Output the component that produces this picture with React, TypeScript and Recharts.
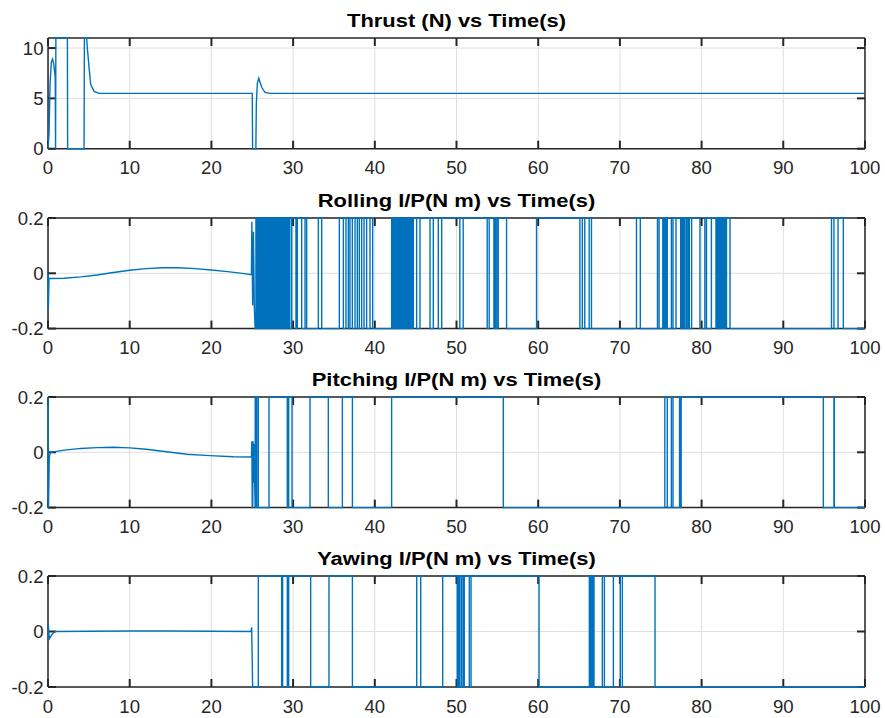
import React from 'react';
import { LineChart, Line, XAxis, YAxis } from 'recharts';

// ---------- tick labels / titles ----------
const timeTicks = [0, 10, 20, 30, 40, 50, 60, 70, 80, 90, 100];
const thrustTicks = [0, 5, 10];
const torqueTicks = [-0.2, 0, 0.2];
const titles = [
  'Thrust (N) vs Time(s)',
  'Rolling I/P(N m) vs Time(s)',
  'Pitching I/P(N m) vs Time(s)',
  'Yawing I/P(N m) vs Time(s)',
];

// ---------- Thrust ----------
const thrustTime = [0, 0.12, 0.25, 0.4, 0.55, 0.7, 0.88, 0.92, 0.96, 2.37, 2.4, 4.41, 4.45, 4.6, 4.72, 4.81, 5.02, 5.22, 5.63, 6.24, 25.0, 25.04, 25.44, 25.5, 25.62, 25.8, 25.95, 26.15, 26.56, 27.17, 100];
const thrustValue = [0, 1.5, 6.5, 8.6, 8.9, 8.4, 7.1, 0, 11, 11, 0, 0, 11, 11, 11, 10.0, 8.1, 6.4, 5.7, 5.5, 5.5, 0, 0, 4.5, 6.5, 7.0, 6.6, 6.1, 5.6, 5.5, 5.5];

// ---------- Rolling ----------
const rollCurveTime = [0, 0.04, 0.12, 0.3, 2, 4, 6, 8, 10, 12, 14, 16, 18, 20, 22, 24, 24.9, 24.95, 25.05, 25.15, 25.25, 25.35];
const rollCurveValue = [0, -0.13, -0.019, -0.019, -0.018, -0.013, -0.006, 0.003, 0.011, 0.017, 0.02, 0.02, 0.017, 0.012, 0.006, -0.001, -0.005, 0.186, -0.116, 0.15, -0.12, -0.2];
const rollSwitchTimes = [
  25.45, 25.56, 25.66, 25.78, 25.89, 26.0, 26.11, 26.23, 26.34, 26.45, 26.57, 26.68, 26.79, 26.9, 27.02, 27.13, 27.24, 27.36, 27.47, 27.58,
  27.7, 27.81, 27.92, 28.04, 28.15, 28.26, 28.38, 28.49, 28.6, 28.72, 28.83, 28.94, 29.06, 29.17, 29.28, 29.4, 29.51, 29.6,
  29.83, 30.35, 30.52, 31.05, 31.46, 31.66, 33.09, 33.5, 35.66, 36.15, 36.47, 36.76, 36.96, 37.25, 37.58, 37.86, 38.1, 38.39, 38.68, 39.0, 39.41, 39.74,
  42.06, 42.17, 42.28, 42.39, 42.5, 42.61, 42.72, 42.83, 42.94, 43.05, 43.16, 43.27, 43.38, 43.49, 43.6, 43.71, 43.82, 43.93, 44.04, 44.15, 44.26, 44.37, 44.48, 44.59, 44.72,
  45.12, 45.53, 46.76, 47.16, 47.77, 48.19, 50.41, 50.82, 53.76, 54.0, 54.58, 54.75, 54.93, 55.11, 56.13, 59.8,
  65.1, 65.4, 65.7, 66.24, 66.52, 72.03, 72.5, 74.6, 74.8, 75.25, 75.35, 75.45, 75.55, 75.65, 75.8, 76.3, 76.5, 76.87,
  77.44, 77.55, 77.66, 77.77, 77.87, 77.97, 78.17, 78.35, 78.5, 78.78, 79.8, 80.4, 80.6, 81.2,
  81.76, 81.86, 81.96, 82.07, 82.17, 82.25, 82.35, 82.45, 82.55, 82.65, 82.75, 82.85, 82.95, 83.05, 83.48,
  95.9, 96.2, 96.7, 97.35,
];

// ---------- Pitching ----------
const pitchCurveTime = [0, 0.02, 0.06, 0.15, 0.3, 2, 4, 6, 8, 10, 12, 14.5, 17, 19.8, 22.7, 24.9, 24.95, 25.0, 25.06, 25.1, 25.17, 25.24, 25.3];
const pitchCurveValue = [0.2, -0.2, -0.2, -0.02, 0.0, 0.008, 0.014, 0.017, 0.018, 0.016, 0.011, 0.002, -0.007, -0.012, -0.016, -0.017, 0.04, -0.2, -0.2, 0.04, -0.11, 0.03, -0.12];
const pitchSwitchTimes = [25.36, 25.45, 25.55, 25.74, 27.05, 29.29, 29.46, 29.87, 32.07, 34.31, 36.03, 37.26, 42.06, 55.73, 75.5, 75.8, 76.3, 76.5, 77.3, 77.4, 77.5, 94.9, 96.2, 96.25];

// ---------- Yawing ----------
const yawCurveTime = [0, 0.03, 0.16, 0.5, 0.86, 5, 10, 15, 20, 24.85, 24.93, 25.05];
const yawCurveValue = [0.028, 0.028, -0.026, -0.01, 0.0, 0.001, 0.002, 0.002, 0.001, 0.0, 0.015, -0.2];
const yawSwitchTimes = [25.74, 28.6, 28.72, 29.29, 29.46, 32.15, 34.39, 37.26, 45.13, 45.62, 48.31, 50.1, 50.27, 50.43, 50.64, 50.84, 50.95, 51.57, 51.78, 60.1, 66.26, 66.37, 66.48, 66.6, 66.71, 66.83, 67.85, 68.1, 69.2, 70.05, 70.3, 74.3];

// ---------- builders ----------
type Pt = { t: number; v: number };
function curve(times: number[], values: number[]): Pt[] {
  return times.map((t, i) => ({ t, v: values[i] }));
}
function withSwitches(start: Pt[], switches: number[], level: number): Pt[] {
  const pts = start.slice();
  let lv = level;
  for (const s of switches) {
    pts.push({ t: s, v: lv });
    lv = -lv;
    pts.push({ t: s, v: lv });
  }
  pts.push({ t: 100, v: lv });
  return pts;
}

const thrustData = curve(thrustTime, thrustValue);
const rollData = withSwitches(curve(rollCurveTime, rollCurveValue), rollSwitchTimes, -0.2);
const pitchData = withSwitches(curve(pitchCurveTime, pitchCurveValue), pitchSwitchTimes, -0.2);
const yawData = withSwitches(curve(yawCurveTime, yawCurveValue), yawSwitchTimes, -0.2);

// ---------- styling ----------
const AXIS_COLOR = '#262626';
const LINE_COLOR = '#0072BD';
const GRID_COLOR = '#dfdfdf';
const FONT = "'Liberation Sans', Arial, Helvetica, sans-serif";
const FONT_SIZE = 18.6;
const TICK_LEN = 8;
const TICK_W = 2;
const AXIS_W = 1.5;

const PAD_TOP = 10;
const AXIS_H = 31;
const LEFT_W = 48;
const RIGHT_M = 20;
const X_MARGIN = 12.5; // gap between bottom axis and label top
const Y_MARGIN = 4.5; // gap between left axis and label end
const PLOT_W = 885 - LEFT_W - RIGHT_M;

type Mode = 'grid' | 'axes' | 'hidden';

function xTickFor(mode: Mode, plotH: number) {
  return (p: any) => {
    const ay = p.y - X_MARGIN;
    if (mode === 'grid') {
      return <line x1={p.x} x2={p.x} y1={ay} y2={ay - plotH} stroke={GRID_COLOR} strokeWidth={1} />;
    }
    return (
      <g>
        <line x1={p.x} x2={p.x} y1={ay} y2={ay - TICK_LEN} stroke={AXIS_COLOR} strokeWidth={TICK_W} />
        <line x1={p.x} x2={p.x} y1={ay - plotH} y2={ay - plotH + TICK_LEN} stroke={AXIS_COLOR} strokeWidth={TICK_W} />
        <text x={p.x} y={p.y} dy="0.71em" textAnchor="middle" fill={AXIS_COLOR} fontSize={FONT_SIZE} fontFamily={FONT}>
          {String(p.payload.value)}
        </text>
      </g>
    );
  };
}

function yTickFor(mode: Mode) {
  return (p: any) => {
    const ax = p.x + Y_MARGIN;
    if (mode === 'grid') {
      return <line x1={ax} x2={ax + PLOT_W} y1={p.y} y2={p.y} stroke={GRID_COLOR} strokeWidth={1} />;
    }
    return (
      <g>
        <line x1={ax} x2={ax + TICK_LEN} y1={p.y} y2={p.y} stroke={AXIS_COLOR} strokeWidth={TICK_W} />
        <line x1={ax + PLOT_W} x2={ax + PLOT_W - TICK_LEN} y1={p.y} y2={p.y} stroke={AXIS_COLOR} strokeWidth={TICK_W} />
        <text x={p.x} y={p.y} dy="0.355em" textAnchor="end" fill={AXIS_COLOR} fontSize={FONT_SIZE} fontFamily={FONT}>
          {String(p.payload.value)}
        </text>
      </g>
    );
  };
}

function renderAxes(domain: [number, number], yTicks: number[], mode: Mode, plotH: number) {
  const showLine = mode === 'axes';
  return [
    <XAxis
      key="xb"
      dataKey="t"
      type="number"
      domain={[0, 100]}
      ticks={timeTicks}
      interval={0}
      height={AXIS_H}
      tickSize={0}
      tickMargin={X_MARGIN}
      tickLine={false}
      axisLine={showLine ? { stroke: AXIS_COLOR, strokeWidth: AXIS_W } : false}
      tick={mode === 'hidden' ? false : xTickFor(mode, plotH)}
      allowDataOverflow={mode !== 'hidden'}
    />,
    <XAxis
      key="xt"
      xAxisId="top"
      orientation="top"
      dataKey="t"
      type="number"
      domain={[0, 100]}
      ticks={timeTicks}
      interval={0}
      height={1}
      tickSize={0}
      tickLine={false}
      axisLine={showLine ? { stroke: AXIS_COLOR, strokeWidth: AXIS_W } : false}
      tick={false}
      allowDataOverflow={true}
    />,
    <YAxis
      key="yl"
      type="number"
      domain={domain}
      ticks={yTicks}
      interval={0}
      width={LEFT_W}
      tickSize={0}
      tickMargin={Y_MARGIN}
      tickLine={false}
      axisLine={showLine ? { stroke: AXIS_COLOR, strokeWidth: AXIS_W } : false}
      tick={mode === 'hidden' ? false : yTickFor(mode)}
      allowDataOverflow={mode !== 'hidden'}
    />,
    <YAxis
      key="yr"
      yAxisId="right"
      orientation="right"
      type="number"
      domain={domain}
      ticks={yTicks}
      interval={0}
      width={1}
      tickSize={0}
      tickLine={false}
      axisLine={showLine ? { stroke: AXIS_COLOR, strokeWidth: AXIS_W } : false}
      tick={false}
      allowDataOverflow={true}
    />,
  ];
}

type PanelProps = {
  data: Pt[];
  top: number;
  bottom: number;
  domain: [number, number];
  yTicks: number[];
};

function Panel({ data, top, bottom, domain, yTicks }: PanelProps) {
  const plotH = bottom - top;
  const h = plotH + PAD_TOP + AXIS_H;
  const margin = { top: PAD_TOP - 1, right: RIGHT_M - 1, bottom: 0, left: 0 };
  const layer: React.CSSProperties = { position: 'absolute', left: 0, top: 0 };
  return (
    <div style={{ position: 'absolute', left: 0, top: top - PAD_TOP, width: 885, height: h }}>
      <div style={layer}>
        <LineChart width={885} height={h} data={data} margin={margin}>
          {renderAxes(domain, yTicks, 'grid', plotH)}
        </LineChart>
      </div>
      <div style={layer}>
        <LineChart width={885} height={h} data={data} margin={margin}>
          {renderAxes(domain, yTicks, 'axes', plotH)}
        </LineChart>
      </div>
      <div style={layer}>
        <LineChart width={885} height={h} data={data} margin={margin}>
          {renderAxes(domain, yTicks, 'hidden', plotH)}
          <Line
            type="linear"
            dataKey="v"
            stroke={LINE_COLOR}
            strokeWidth={1.4}
            dot={false}
            isAnimationActive={false}
          />
        </LineChart>
      </div>
    </div>
  );
}

const panelBoxes = [
  { top: 38.3, bottom: 149 },
  { top: 217.7, bottom: 328.3 },
  { top: 396.7, bottom: 507.3 },
  { top: 575.7, bottom: 686.7 },
];
const titleBaselines = [27.3, 206.7, 385.7, 564.7];

export default function App() {
  return (
    <div style={{ position: 'absolute', left: 0, top: 0, width: 885, height: 718, overflow: 'hidden', background: '#fff' }}>
      <Panel data={thrustData} top={panelBoxes[0].top} bottom={panelBoxes[0].bottom} domain={[0, 11]} yTicks={thrustTicks} />
      <Panel data={rollData} top={panelBoxes[1].top} bottom={panelBoxes[1].bottom} domain={[-0.2, 0.2]} yTicks={torqueTicks} />
      <Panel data={pitchData} top={panelBoxes[2].top} bottom={panelBoxes[2].bottom} domain={[-0.2, 0.2]} yTicks={torqueTicks} />
      <Panel data={yawData} top={panelBoxes[3].top} bottom={panelBoxes[3].bottom} domain={[-0.2, 0.2]} yTicks={torqueTicks} />
      <svg width={885} height={718} style={{ position: 'absolute', left: 0, top: 0, pointerEvents: 'none' }}>
        {titles.map((t, i) => (
          <text
            key={i}
            transform={`translate(456.5 ${titleBaselines[i]}) scale(1.18 1)`}
            textAnchor="middle"
            fontFamily={FONT}
            fontWeight="bold"
            fontSize={FONT_SIZE}
            fill="#000"
          >
            {t}
          </text>
        ))}
      </svg>
    </div>
  );
}
